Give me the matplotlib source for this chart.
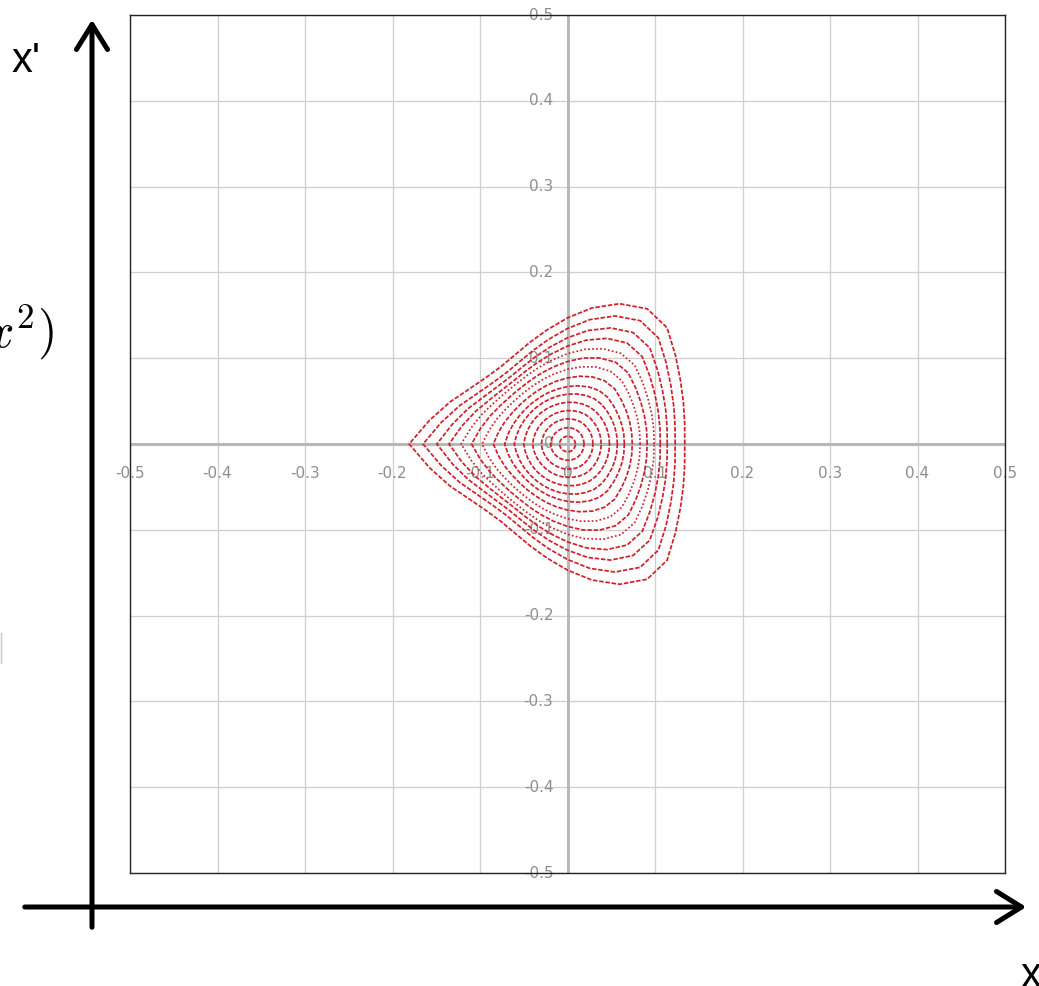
import numpy as np
import matplotlib
matplotlib.use("Agg")
import matplotlib.pyplot as plt
from matplotlib.patches import FancyArrowPatch
from matplotlib.lines import Line2D

plt.rcParams['mathtext.fontset'] = 'cm'

# ---------------- data ----------------
tick_values = [-0.5, -0.4, -0.3, -0.2, -0.1, 0.0, 0.1, 0.2, 0.3, 0.4, 0.5]
x_tick_labels = ["-0.5", "-0.4", "-0.3", "-0.2", "-0.1", "0", "0.1", "0.2", "0.3", "0.4", "0.5"]
y_tick_labels = ["-0.5", "-0.4", "-0.3", "-0.2", "-0.1", "0", "0.1", "0.2", "0.3", "0.4", "0.5"]

# polar angles (deg) for the upper half of each invariant curve (mirrored below the x axis)
angles_deg = [0, 10, 20, 30, 40, 50, 60, 70, 80, 90, 100, 110, 120, 130, 140, 150, 160, 170, 180]

# radius of each closed orbit at the angles above (inner -> outer)
orbit_01 = [0.0090, 0.0090, 0.0090, 0.0090, 0.0091, 0.0091, 0.0091, 0.0091, 0.0091, 0.0090, 0.0090, 0.0089, 0.0089, 0.0089, 0.0089, 0.0089, 0.0090, 0.0090, 0.0091]
orbit_02 = [0.0189, 0.0189, 0.0189, 0.0190, 0.0191, 0.0192, 0.0192, 0.0191, 0.0191, 0.0190, 0.0189, 0.0188, 0.0188, 0.0188, 0.0188, 0.0189, 0.0190, 0.0191, 0.0192]
orbit_03 = [0.0291, 0.0291, 0.0292, 0.0293, 0.0295, 0.0297, 0.0298, 0.0297, 0.0295, 0.0293, 0.0291, 0.0289, 0.0288, 0.0288, 0.0289, 0.0290, 0.0292, 0.0295, 0.0298]
orbit_04 = [0.0385, 0.0386, 0.0387, 0.0390, 0.0393, 0.0398, 0.0400, 0.0397, 0.0393, 0.0389, 0.0386, 0.0383, 0.0381, 0.0380, 0.0381, 0.0384, 0.0388, 0.0393, 0.0399]
orbit_05 = [0.0480, 0.0481, 0.0483, 0.0487, 0.0492, 0.0498, 0.0500, 0.0497, 0.0492, 0.0486, 0.0481, 0.0477, 0.0474, 0.0474, 0.0475, 0.0478, 0.0484, 0.0491, 0.0500]
orbit_06 = [0.0570, 0.0571, 0.0576, 0.0582, 0.0592, 0.0605, 0.0610, 0.0603, 0.0592, 0.0581, 0.0571, 0.0563, 0.0558, 0.0556, 0.0559, 0.0566, 0.0577, 0.0591, 0.0609]
orbit_07 = [0.0650, 0.0653, 0.0660, 0.0672, 0.0689, 0.0712, 0.0720, 0.0708, 0.0689, 0.0669, 0.0651, 0.0638, 0.0629, 0.0626, 0.0631, 0.0642, 0.0663, 0.0688, 0.0718]
orbit_08 = [0.0740, 0.0745, 0.0756, 0.0775, 0.0802, 0.0839, 0.0850, 0.0832, 0.0802, 0.0770, 0.0743, 0.0722, 0.0708, 0.0704, 0.0711, 0.0729, 0.0761, 0.0800, 0.0848]
orbit_09 = [0.0830, 0.0836, 0.0852, 0.0877, 0.0914, 0.0964, 0.0980, 0.0955, 0.0914, 0.0871, 0.0833, 0.0805, 0.0786, 0.0780, 0.0789, 0.0814, 0.0858, 0.0911, 0.0977]
orbit_10 = [0.0910, 0.0918, 0.0937, 0.0969, 0.1017, 0.1080, 0.1100, 0.1068, 0.1017, 0.0961, 0.0914, 0.0878, 0.0854, 0.0846, 0.0858, 0.0890, 0.0945, 0.1013, 0.1096]
orbit_11 = [0.0990, 0.1000, 0.1024, 0.1062, 0.1120, 0.1196, 0.1220, 0.1182, 0.1120, 0.1053, 0.0995, 0.0952, 0.0923, 0.0914, 0.0928, 0.0966, 0.1034, 0.1115, 0.1216]
orbit_12 = [0.1060, 0.1073, 0.1104, 0.1154, 0.1229, 0.1329, 0.1360, 0.1310, 0.1229, 0.1141, 0.1066, 0.1010, 0.0973, 0.0960, 0.0979, 0.1029, 0.1116, 0.1223, 0.1354]
orbit_13 = [0.1140, 0.1155, 0.1193, 0.1253, 0.1343, 0.1463, 0.1500, 0.1440, 0.1343, 0.1238, 0.1148, 0.1080, 0.1035, 0.1020, 0.1043, 0.1103, 0.1208, 0.1335, 0.1493]
orbit_14 = [0.1230, 0.1248, 0.1292, 0.1364, 0.1472, 0.1615, 0.1660, 0.1588, 0.1472, 0.1346, 0.1239, 0.1158, 0.1104, 0.1086, 0.1113, 0.1185, 0.1310, 0.1463, 0.1651]
orbit_15 = [0.1340, 0.1360, 0.1410, 0.1490, 0.1610, 0.1770, 0.1820, 0.1740, 0.1610, 0.1470, 0.1350, 0.1260, 0.1200, 0.1180, 0.1210, 0.1290, 0.1430, 0.1600, 0.1810]

orbits = [orbit_01, orbit_02, orbit_03, orbit_04, orbit_05, orbit_06, orbit_07, orbit_08,
          orbit_09, orbit_10, orbit_11, orbit_12, orbit_13, orbit_14, orbit_15]
# how the dots of each orbit look (True = sparse dots)
orbit_sparse = [False, False, False, False, False, False, False, False,
                True, False, True, False, False, False, False]

# ---------------- figure ----------------
W, H = 1039, 986
fig = plt.figure(figsize=(W / 100, H / 100), dpi=100)
fig.patch.set_facecolor('white')


def fx(px):
    return px / W


def fy(py):
    return 1 - py / H


ax_left, ax_right, ax_top, ax_bottom = 130, 1005, 15, 873
ax = fig.add_axes([fx(ax_left), fy(ax_bottom), (ax_right - ax_left) / W, (ax_bottom - ax_top) / H])
ax.set_xlim(-0.5, 0.5)
ax.set_ylim(-0.5, 0.5)
ax.set_xticks(tick_values)
ax.set_yticks(tick_values)
ax.tick_params(length=0, labelbottom=False, labelleft=False)
ax.grid(True, color='#cfcfcf', lw=0.9, zorder=0)
ax.set_axisbelow(True)
for sp in ax.spines.values():
    sp.set_color('#222222')
    sp.set_linewidth(1.0)

ax.axhline(0, color='#b8b8b8', lw=2.2, zorder=1)
ax.axvline(0, color='#b8b8b8', lw=2.2, zorder=1)

label_kw = dict(color='#8e8e8e', fontsize=11, family='DejaVu Sans', zorder=2,
                annotation_clip=False)
for v, lab in zip(tick_values, x_tick_labels):
    ax.annotate(lab, xy=(v, 0), xytext=(0, -30), textcoords='offset pixels',
                ha='center', va='center', **label_kw)
for v, lab in zip(tick_values, y_tick_labels):
    ax.annotate(lab, xy=(0, v), xytext=(-14, 0), textcoords='offset pixels',
                ha='right', va='center', **label_kw)

# closed orbits
ang = np.deg2rad(np.array(angles_deg + [-a for a in angles_deg[-2::-1]]))
red = '#d0202a'
for r_half, sparse in zip(orbits, orbit_sparse):
    r = np.array(r_half + r_half[-2::-1])
    xs = r * np.cos(ang)
    ys = r * np.sin(ang)
    if sparse:
        ls = (0, (1.0, 1.3))
    else:
        ls = (0, (2.6, 1.0))
    ax.plot(xs, ys, color=red, lw=1.25, linestyle=ls, zorder=3)

# ---------------- outer arrows and labels ----------------
arrow_kw = dict(transform=fig.transFigure, arrowstyle='->,head_length=0.45,head_width=0.28',
                mutation_scale=40, lw=3.6, color='black', joinstyle='round', capstyle='round')
fig.add_artist(FancyArrowPatch((fx(92), fy(930)), (fx(92), fy(17)), **arrow_kw))
fig.add_artist(FancyArrowPatch((fx(22), fy(907)), (fx(1029), fy(907)), **arrow_kw))

fig.text(fx(12), fy(72), "x'", fontsize=30, family='Liberation Sans', ha='left', va='baseline')
fig.text(fx(1021), fy(987), "x", fontsize=30, family='Liberation Sans', ha='left', va='baseline')
fig.text(fx(54), fy(348), r"$(x' - x^2)$", fontsize=36, ha='right', va='baseline')
fig.add_artist(Line2D([fx(0.5), fx(0.5)], [fy(633), fy(663)], transform=fig.transFigure,
                      color='#c8c8c8', lw=1))

fig.savefig('out.png', dpi=100, facecolor='white')
